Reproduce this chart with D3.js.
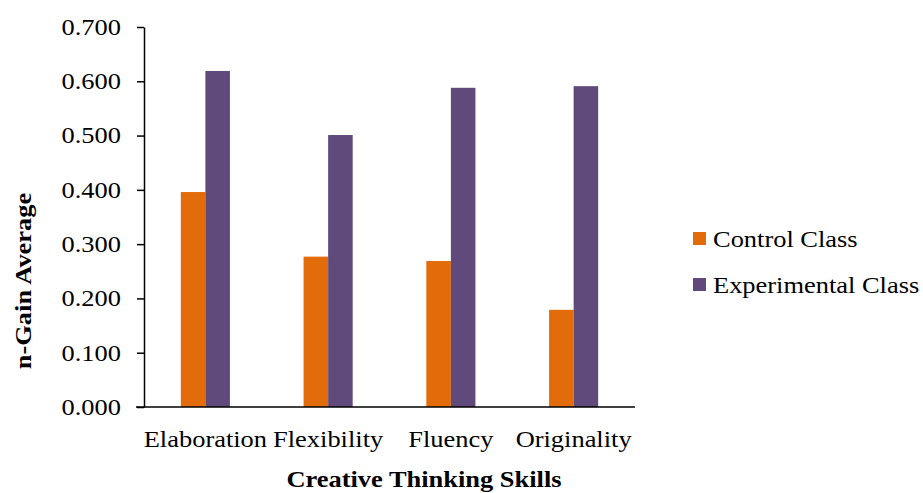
<!DOCTYPE html>
<html>
<head>
<meta charset="utf-8">
<script src="https://cdn.jsdelivr.net/npm/d3@7"></script>
<style>
  body { margin: 0; background: #fff; }
  text { font-family: "Liberation Serif", "Times New Roman", serif; fill: #000; }
</style>
</head>
<body>
<svg width="923" height="493"></svg>
<script>
var categories = ['Elaboration', 'Flexibility', 'Fluency', 'Originality'];
var seriesNames = ['Control Class', 'Experimental Class'];
var controlValues = [0.396, 0.277, 0.269, 0.179];
var experimentalValues = [0.619, 0.501, 0.588, 0.591];
var yTicks = [0, 0.1, 0.2, 0.3, 0.4, 0.5, 0.6, 0.7];
var colors = ['#E36C0A', '#604A7B'];

var svg = d3.select('svg');
var plotLeft = 144, plotRight = 635, plotTop = 27, plotBottom = 407;
var fontSize = '23px';
var stretch = 1.15; // the original text looks a bit wide

var x = d3.scaleBand()
  .domain(categories)
  .range([plotLeft, plotRight]);

var inner = d3.scaleBand()
  .domain(seriesNames)
  .range([0, x.bandwidth() * 0.4]);

var y = d3.scaleLinear()
  .domain([0, 0.7])
  .range([plotBottom, plotTop]);

var rows = categories.map(function(c, i) {
  return { cat: c, values: [controlValues[i], experimentalValues[i]] };
});

// bars
var groups = svg.selectAll('g.group')
  .data(rows)
  .enter()
    .append('g')
      .attr('class', 'group')
      .attr('transform', function(d) {
        return 'translate(' + (x(d.cat) + x.bandwidth() * 0.3) + ',0)';
      });

groups.selectAll('rect')
  .data(function(d) { return d.values; })
  .enter()
    .append('rect')
      .attr('x', function(d, i) { return inner(seriesNames[i]); })
      .attr('width', inner.bandwidth())
      .attr('y', function(d) { return y(d); })
      .attr('height', function(d) { return plotBottom - y(d); })
      .attr('fill', function(d, i) { return colors[i]; });

// y axis
var yAxis = svg.append('g')
  .attr('transform', 'translate(' + plotLeft + ',0)')
  .call(d3.axisLeft(y).tickValues(yTicks).tickFormat(d3.format('.3f')).tickSize(7).tickSizeOuter(0).tickPadding(16));
yAxis.select('.domain').attr('stroke', '#000').attr('stroke-width', 1.5);
yAxis.selectAll('.tick line').attr('stroke', '#000').attr('stroke-width', 1.5);
yAxis.selectAll('.tick text')
  .style('font-size', fontSize).attr('fill', '#000')
  .style('font-family', '"Liberation Serif", serif')
  .attr('transform', 'translate(-23,0) scale(' + stretch + ',1) translate(23,0)');

// x axis
var xAxis = svg.append('g')
  .attr('transform', 'translate(0,' + plotBottom + ')')
  .call(d3.axisBottom(x).tickSize(0).tickPadding(24));
xAxis.select('.domain').attr('stroke', '#000').attr('stroke-width', 1.5)
  .attr('d', 'M' + (plotLeft - 8) + ',0H' + plotRight);
xAxis.selectAll('.tick text')
  .style('font-size', fontSize).attr('fill', '#000')
  .style('font-family', '"Liberation Serif", serif')
  .attr('transform', 'scale(' + stretch + ',1)');

// axis titles
svg.append('text')
  .attr('transform', 'translate(424,487) scale(' + stretch + ',1)')
  .attr('text-anchor', 'middle')
  .style('font-size', fontSize)
  .style('font-weight', 'bold')
  .text('Creative Thinking Skills');

svg.append('text')
  .attr('transform', 'translate(31,281) rotate(-90) scale(' + stretch + ',1)')
  .attr('text-anchor', 'middle')
  .style('font-size', fontSize)
  .style('font-weight', 'bold')
  .text('n-Gain Average');

// legend
var legend = svg.append('g')
  .attr('class', 'legend')
  .selectAll('g')
  .data(seriesNames)
  .enter()
    .append('g')
      .attr('transform', function(d, i) { return 'translate(693,' + (232 + i * 46) + ')'; });

legend.append('rect')
  .attr('width', 13)
  .attr('height', 13)
  .attr('fill', function(d, i) { return colors[i]; });

legend.append('text')
  .attr('transform', 'translate(20,15) scale(' + stretch + ',1)')
  .style('font-size', fontSize)
  .text(function(d) { return d; });
</script>
</body>
</html>
